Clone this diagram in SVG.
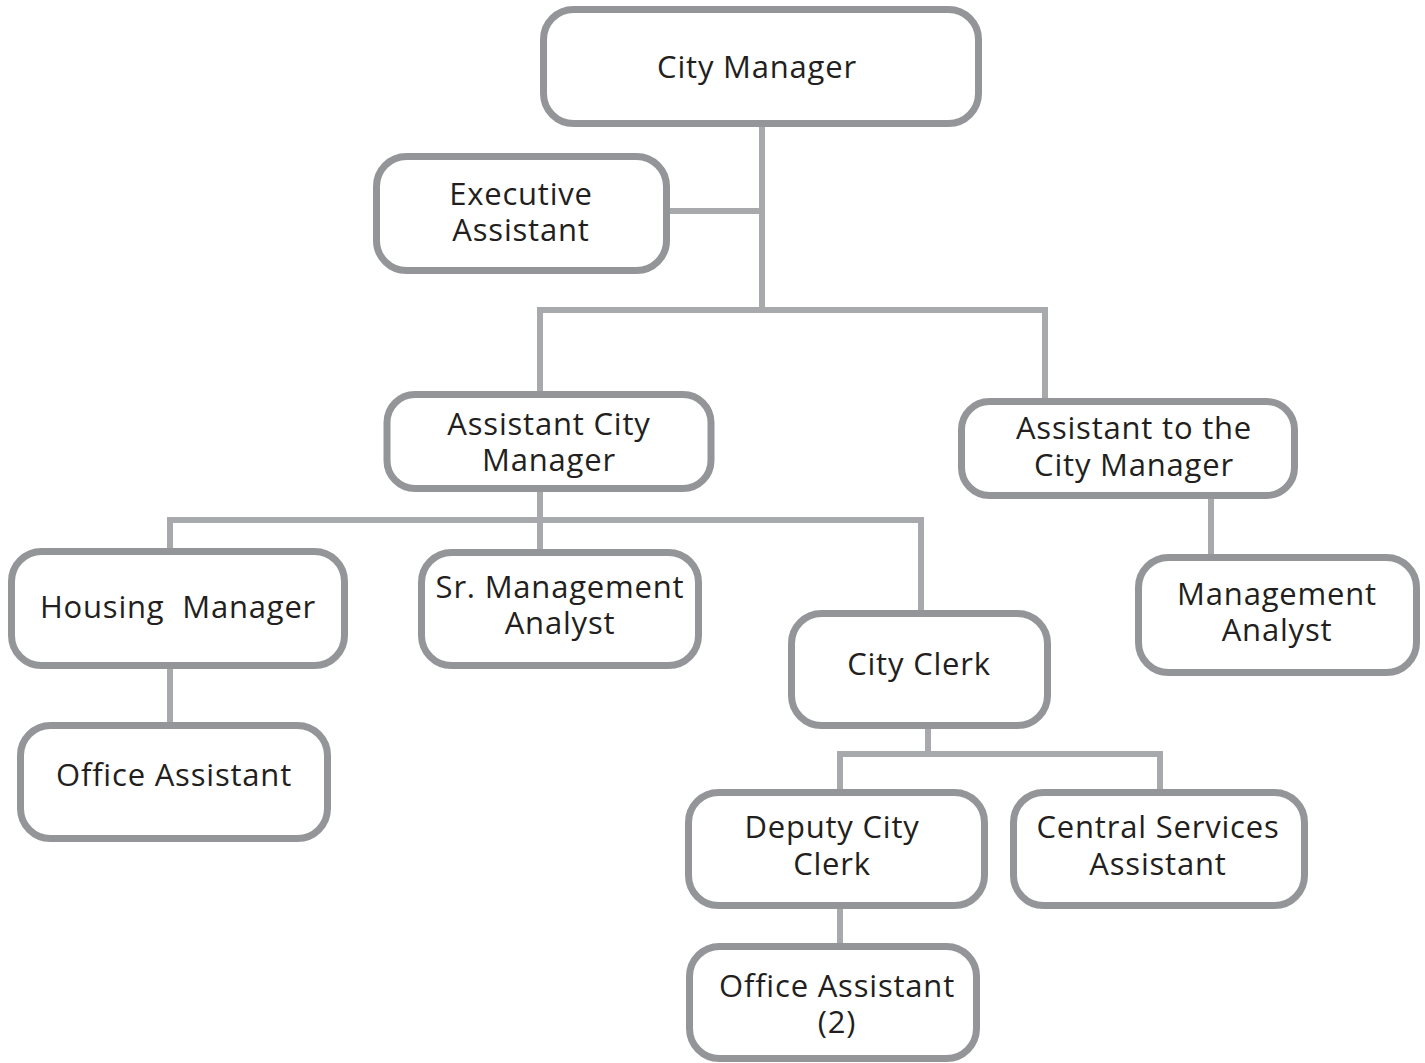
<svg xmlns="http://www.w3.org/2000/svg" width="1425" height="1063" viewBox="0 0 1425 1063">
<style>
.box{fill:#fff;stroke:#939598;stroke-width:7}
.ln{fill:none;stroke:#a7a9ac;stroke-width:6}
text{font-family:"Open Sans","Liberation Sans",sans-serif;font-size:31px;letter-spacing:0.8px;fill:#231f20;text-anchor:middle}
</style>
<rect width="1425" height="1063" fill="#fff"/>
<g id="connectors">
<path class="ln" d="M762 127V310M670 211H762M540 310H1045M540 307V394M1045 307V401"/>
<path class="ln" d="M540 491V520M170 520H921M170 517V552M540 517V553M921 517V614"/>
<path class="ln" d="M170 668V726"/>
<path class="ln" d="M1211 498V558"/>
<path class="ln" d="M928 728V754M840 754H1160M840 751V793M1160 751V793"/>
<path class="ln" d="M840 908V947"/>
</g>
<g id="city-manager"><rect class="box" x="543.5" y="9.5" width="435" height="114" rx="30"/><text x="757" y="78">City Manager</text></g>
<g id="executive-assistant"><rect class="box" x="376.5" y="156.5" width="290" height="114" rx="30"/><text x="521" y="205">Executive<tspan x="521" dy="36">Assistant</tspan></text></g>
<g id="assistant-city-manager"><rect class="box" x="387" y="394.5" width="324" height="94" rx="28"/><text x="549" y="435">Assistant City<tspan x="549" dy="36">Manager</tspan></text></g>
<g id="assistant-to-city-manager"><rect class="box" x="961.5" y="401.5" width="333" height="94" rx="28"/><text x="1134" y="439">Assistant to the<tspan x="1134" dy="37">City Manager</tspan></text></g>
<g id="housing-manager"><rect class="box" x="11.5" y="551.5" width="333" height="114" rx="30"/><text x="178" y="618" xml:space="preserve">Housing  Manager</text></g>
<g id="sr-management-analyst"><rect class="box" x="421.5" y="552.5" width="277" height="113" rx="30"/><text x="560" y="598">Sr. Management<tspan x="560" dy="36">Analyst</tspan></text></g>
<g id="city-clerk"><rect class="box" x="791.5" y="613.5" width="256" height="112" rx="30"/><text x="919" y="675">City Clerk</text></g>
<g id="management-analyst"><rect class="box" x="1138.5" y="557.5" width="278" height="115" rx="30"/><text x="1277" y="605">Management<tspan x="1277" dy="36">Analyst</tspan></text></g>
<g id="office-assistant"><rect class="box" x="20.5" y="725.5" width="307" height="113" rx="30"/><text x="174" y="786">Office Assistant</text></g>
<g id="deputy-city-clerk"><rect class="box" x="688.5" y="792.5" width="296" height="113" rx="30"/><text x="832" y="838">Deputy City<tspan x="832" dy="37">Clerk</tspan></text></g>
<g id="central-services-assistant"><rect class="box" x="1013.5" y="792.5" width="291" height="113" rx="30"/><text x="1158" y="838">Central Services<tspan x="1158" dy="37">Assistant</tspan></text></g>
<g id="office-assistant-2"><rect class="box" x="689.5" y="946.5" width="287" height="112" rx="30"/><text x="837" y="997">Office Assistant<tspan x="837" dy="36">(2)</tspan></text></g>
</svg>
